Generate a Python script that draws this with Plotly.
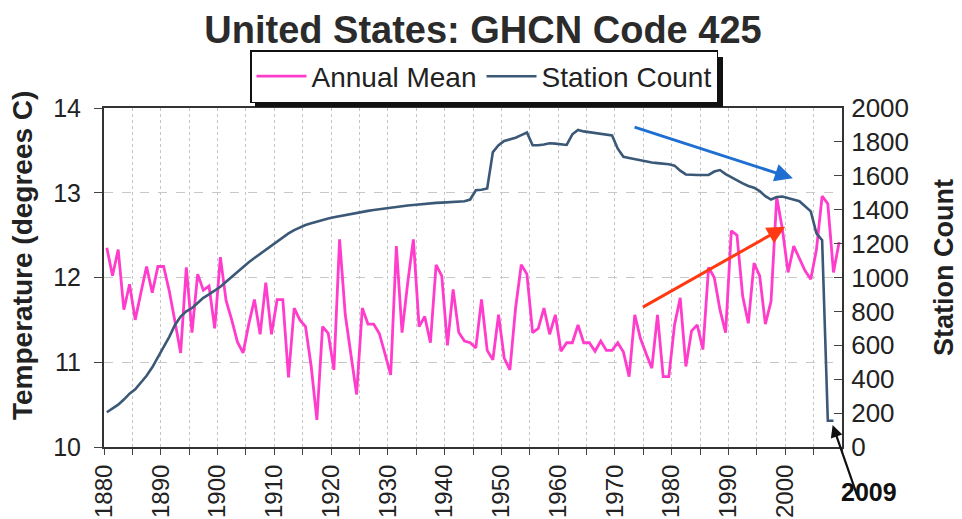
import plotly.graph_objects as go

years = list(range(1880, 2010))

annual_mean = [
    12.35, 12.02, 12.33, 11.62, 11.92, 11.50, 11.82, 12.13, 11.82, 12.13,  # 1880s
    12.13, 11.84, 11.48, 11.11, 12.12, 11.35, 12.04, 11.85, 11.90, 11.40,  # 1890s
    12.24, 11.73, 11.50, 11.24, 11.11, 11.45, 11.74, 11.33, 11.94, 11.33,  # 1900s
    11.74, 11.74, 10.82, 11.64, 11.50, 11.42, 10.95, 10.32, 11.42, 11.34,  # 1910s
    10.91, 12.45, 11.56, 11.10, 10.62, 11.64, 11.45, 11.45, 11.34, 11.10,  # 1920s
    10.85, 12.37, 11.35, 11.94, 12.45, 11.42, 11.54, 11.23, 12.15, 12.02,  # 1930s
    11.20, 11.86, 11.35, 11.25, 11.23, 11.17, 11.74, 11.14, 11.03, 11.56,  # 1940s
    11.05, 10.91, 11.64, 12.15, 12.04, 11.35, 11.40, 11.64, 11.33, 11.56,  # 1950s
    11.13, 11.23, 11.23, 11.44, 11.23, 11.23, 11.13, 11.25, 11.14, 11.14,  # 1960s
    11.23, 11.12, 10.83, 11.56, 11.28, 11.10, 10.93, 11.56, 10.83, 10.83,  # 1970s
    11.44, 11.76, 10.95, 11.37, 11.44, 11.15, 12.12, 12.00, 11.62, 11.35,  # 1980s
    12.55, 12.50, 11.78, 11.46, 12.17, 12.02, 11.45, 11.72, 12.95, 12.57,  # 1990s
    12.06, 12.37, 12.22, 12.08, 11.98, 12.33, 12.96, 12.87, 12.06, 12.42,  # 2000s
]

station_count = [
    205, 225, 250, 280, 315, 340, 380, 420, 470, 530,
    590, 650, 720, 770, 800, 820, 850, 880, 900, 920,
    945, 975, 1005, 1030, 1060, 1090, 1115, 1140, 1165, 1190,
    1215, 1240, 1260, 1280, 1295, 1310, 1320, 1330, 1340, 1348,
    1355, 1362, 1368, 1375, 1382, 1388, 1393, 1398, 1403, 1408,
    1413, 1418, 1421, 1425, 1428, 1432, 1435, 1438, 1440, 1442,
    1444, 1446, 1448, 1450, 1460, 1515, 1518, 1525, 1740, 1780,
    1805, 1815, 1825, 1840, 1855, 1780, 1780, 1785, 1792, 1790,
    1785, 1782, 1845, 1870, 1862, 1858, 1852, 1848, 1845, 1838,
    1760, 1712, 1705, 1698, 1690, 1685, 1678, 1675, 1672, 1668,
    1660, 1630, 1608, 1605, 1605, 1605, 1605, 1625, 1634, 1610,
    1590, 1570, 1555, 1540, 1530, 1510, 1480, 1460, 1475, 1478,
    1470, 1460, 1450, 1420, 1390, 1260, 1220, 155, 155, None,
]

x_ticks = list(range(1880, 2001, 10))
x_ticktext = [str(v) for v in x_ticks]

# Excel-style category axis: each annual point sits in the middle of its year slot
x_pos = [y + 0.5 for y in years]

FONT = "Liberation Sans, Arial, sans-serif"
PINK = "#ff3ccb"
SLATE = "#3b5877"

fig = go.Figure()
fig.add_trace(go.Scatter(
    x=x_pos, y=annual_mean, name="Annual Mean", mode="lines",
    line=dict(color=PINK, width=2.8), yaxis="y",
))
fig.add_trace(go.Scatter(
    x=x_pos, y=station_count, name="Station Count", mode="lines",
    line=dict(color=SLATE, width=2.6), yaxis="y2",
))

# page body has an 8px margin; figure is sized/positioned to compensate
OFF = 8
W, H = 962 - OFF, 519 - OFF
# plot area edges in reference (window) pixels
RL, RR, RT, RB = 104, 842, 108, 447
L, R, T, B = RL - OFF, RR - OFF, RT - OFF, RB - OFF


def px(xr):
    return (xr - RL) / (RR - RL)


def py(yr):
    return (RB - yr) / (RB - RT)


def cx(xr):
    return (xr - OFF) / W


def cy(yr):
    return 1 - (yr - OFF) / H


fig.update_layout(
    width=W, height=H,
    margin=dict(l=L, r=W - R, t=T, b=H - B, pad=0),
    paper_bgcolor="white", plot_bgcolor="white",
    font=dict(family=FONT, color="#222222"),
    title=dict(text="<b>United States: GHCN Code 425</b>", x=cx(483), xanchor="center",
               y=cy(30), yanchor="middle", automargin=False,
               font=dict(size=38, color="#2b2b2b", family=FONT)),
    showlegend=True,
    legend=dict(orientation="h", xref="container", yref="container",
                x=cx(250), xanchor="left", y=cy(50), yanchor="top",
                bgcolor="white", bordercolor="#111111", borderwidth=1.5,
                font=dict(size=28, color="#222222", family=FONT),
                itemwidth=50, tracegroupgap=0),
    xaxis=dict(
        range=[1880, 2010], tickmode="array", tickvals=x_ticks, ticktext=x_ticktext,
        tickangle=-90, tickfont=dict(size=24, color="#222222"),
        ticks="outside", ticklen=6, tickwidth=1.2, tickcolor="#444444",
        showline=True, linecolor="#333333", linewidth=2, mirror=True,
        showgrid=True, gridcolor="#c4c4c4", griddash="dot", gridwidth=1,
        minor=dict(dtick=5, tick0=1880, ticks="outside", ticklen=6, tickcolor="#444444",
                   showgrid=True, gridcolor="#c4c4c4", griddash="dot"),
        zeroline=False, ticklabelstandoff=0, automargin=False,
    ),
    yaxis=dict(
        range=[10, 14], dtick=1, tickfont=dict(size=25, color="#222222"),
        ticks="outside", ticklen=8, tickcolor="#444444",
        showline=True, linecolor="#333333", linewidth=2,
        showgrid=True, gridcolor="#c8c8c8", griddash="dash", gridwidth=1,
        zeroline=False, ticklabelstandoff=8, automargin=False,
    ),
    yaxis2=dict(
        range=[0, 2000], dtick=200, overlaying="y", side="right",
        tickfont=dict(size=26, color="#222222"),
        ticks="inside", ticklen=8, tickcolor="#444444",
        showline=True, linecolor="#333333", linewidth=2,
        showgrid=False, zeroline=False, ticklabelstandoff=2, automargin=False,
    ),
)

shapes = [
    # legend drop shadow
    dict(type="rect", xref="paper", yref="paper", x0=px(255), x1=px(723), y0=py(107), y1=py(57),
         fillcolor="#111111", line=dict(width=0), layer="above"),
]
fig.update_layout(shapes=shapes)

annotations = [
    dict(text="<b>Temperature (degrees C)</b>", xref="paper", yref="paper",
         x=px(22), y=py(256), textangle=-90, showarrow=False,
         font=dict(size=28, color="#222222"), xanchor="center", yanchor="middle"),
    dict(text="<b>Station Count</b>", xref="paper", yref="paper",
         x=px(944), y=py(268), textangle=-90, showarrow=False,
         font=dict(size=27, color="#222222"), xanchor="center", yanchor="middle"),
    # blue arrow
    dict(x=2001.35, y=13.17, ax=1973.2, ay=13.78, xref="x", yref="y", axref="x", ayref="y",
         showarrow=True, arrowhead=2, arrowsize=1.2, arrowwidth=3, arrowcolor="#1f6fd2", text=""),
    # red arrow
    dict(x=2000.0, y=12.60, ax=1974.66, ay=11.64, xref="x", yref="y", axref="x", ayref="y",
         showarrow=True, arrowhead=2, arrowsize=1.2, arrowwidth=3, arrowcolor="#ff3a12", text=""),
    # black arrow to 2009
    dict(x=2008.35, y=10.26, ax=25, ay=72, xref="x", yref="y",
         showarrow=True, arrowhead=2, arrowsize=1.1, arrowwidth=2.2, arrowcolor="#111111", text=""),
    dict(text="<b>2009</b>", xref="paper", yref="paper", x=px(869), y=py(492),
         showarrow=False, xanchor="center", yanchor="middle",
         font=dict(size=25, color="#111111", family="Liberation Sans Narrow, Arial Narrow, sans-serif")),
]
fig.update_layout(annotations=annotations)

fig.write_html("out.html")
